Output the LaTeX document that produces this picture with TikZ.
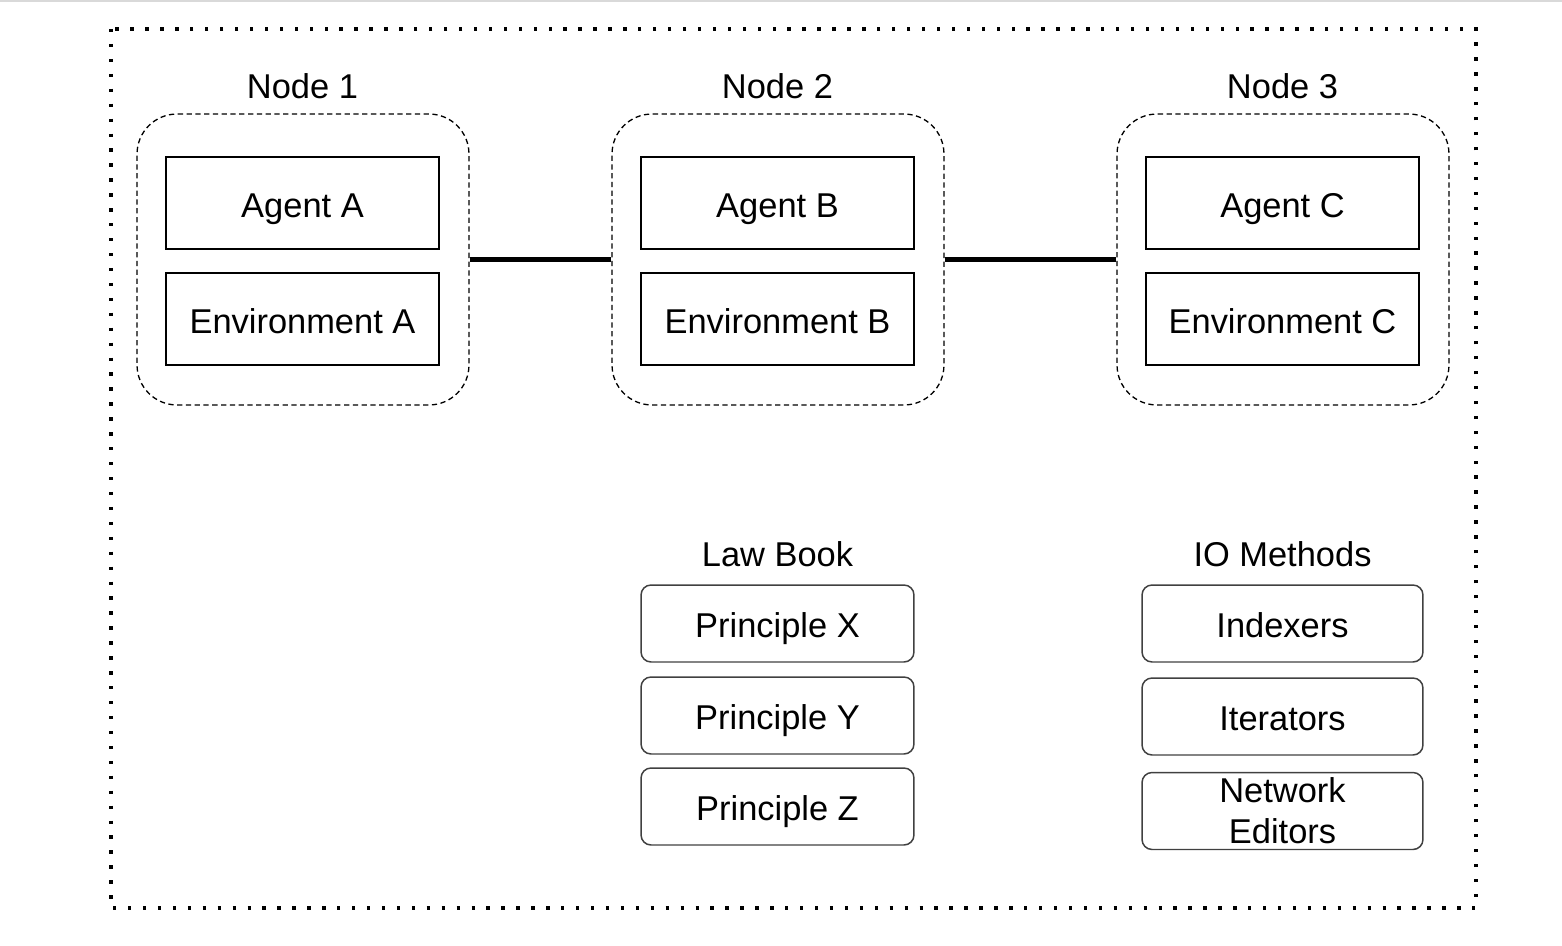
\documentclass[tikz,border=0pt]{standalone}
\usepackage{fontspec}
\setmainfont{Liberation Sans}
\usetikzlibrary{positioning}

\tikzset{
  capline/.style={text height=16pt, text depth=0pt},
  unit/.style={draw, capline, line width=0.85pt, minimum width=5.46cm, minimum height=1.84cm, inner sep=0pt},
  group/.style={draw, line width=0.75pt, dash pattern=on 3pt off 2pt, rounded corners=0.8cm, minimum width=6.64cm, minimum height=5.82cm},
  rule/.style={draw=black!75, line width=0.85pt, rounded corners=0.2cm, minimum width=5.46cm, minimum height=1.54cm, inner sep=0pt, align=center},
  title/.style={inner sep=0pt},
  link/.style={line width=2.3pt}
}

\begin{document}
\begin{tikzpicture}[x=0.02cm, y=-0.02cm, font=\fontsize{19.6}{23.3}\selectfont]
\useasboundingbox (0,0) rectangle (1562,946);
% top rule
\fill[black!15] (0,0) rectangle (1562,2.5);
% outer frame
\draw[line width=1.9pt, dash pattern=on 1.9pt off 6.6pt] (111,29) rectangle (1476,908);

% nodes with agent and environment
\foreach \n/\x/\l in {1/303/A, 2/778/B, 3/1283/C} {
    \node[group] (node\n) at (\x,259.5) {};
    \node[title] (name\n) at (\x-0.5,86) {Node \n};
    \node[unit] (agent\l) at (\x-0.5,203) {Agent \l};
    \node[unit] (env\l) at (\x-0.5,319) {Environment \l};
}

% links
\draw[link] (node1.east) -- (node2.west);
\draw[link] (node2.east) -- (node3.west);

% law book
\node[title] (law) at (777.5,554) {Law Book};
\foreach \p/\y in {X/623.5, Y/715.5, Z/806.5} {
    \node[rule, capline] (principle\p) at (777.5,\y) {Principle \p};
}

% io methods
\node[title] (io) at (1282.5,554) {IO Methods};
\node[rule, capline, minimum width=5.62cm] (indexers) at (1282.5,623.5) {Indexers};
\node[rule, capline, minimum width=5.62cm] (iterators) at (1282.5,716.5) {Iterators};
\node[rule, minimum width=5.62cm] (editors) at (1282.5,811) {Network\\Editors};

\end{tikzpicture}
\end{document}
